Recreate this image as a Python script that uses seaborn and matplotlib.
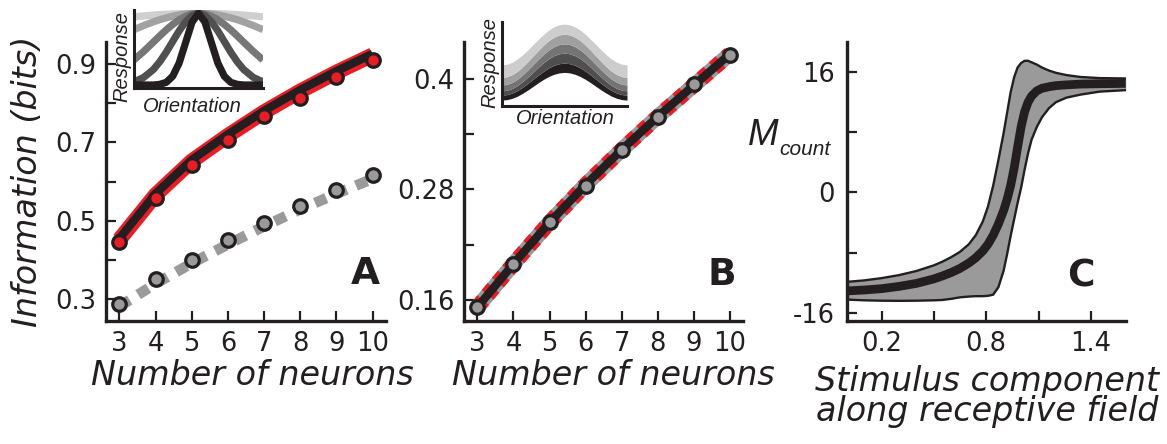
import matplotlib
matplotlib.use("Agg")
import matplotlib.pyplot as plt
import seaborn as sns

# ---------------- data ----------------
neurons = [3, 4, 5, 6, 7, 8, 9, 10]
A_red_points = [0.447, 0.558, 0.642, 0.705, 0.766, 0.812, 0.867, 0.908]
A_red_line = [0.452, 0.566, 0.652, 0.717, 0.777, 0.830, 0.878, 0.922]
A_black_line = [0.455, 0.569, 0.655, 0.720, 0.780, 0.833, 0.881, 0.925]
A_gray_points = [0.287, 0.351, 0.401, 0.450, 0.495, 0.538, 0.579, 0.617]
A_gray_line = [0.282, 0.340, 0.392, 0.440, 0.486, 0.529, 0.569, 0.607]

B_points = [0.152, 0.199, 0.244, 0.284, 0.323, 0.359, 0.394, 0.426]
B_line = [0.152, 0.199, 0.244, 0.285, 0.323, 0.359, 0.393, 0.427]

C_x = [0.0, 0.1, 0.2, 0.3, 0.4, 0.5, 0.55, 0.6, 0.65, 0.7, 0.74, 0.78, 0.81, 0.84,
       0.87, 0.9, 0.92, 0.94, 0.96, 0.98, 1.0, 1.02, 1.04, 1.06, 1.09, 1.12, 1.16,
       1.2, 1.26, 1.34, 1.45, 1.6]
C_upper = [-11.9, -11.7, -11.4, -11.0, -10.45, -9.7, -9.2, -8.6, -7.9, -6.9, -5.7, -3.9,
           -1.9, 0.9, 4.3, 7.9, 10.6, 13.3, 15.3, 16.6, 17.2, 17.5, 17.5, 17.3, 17.0,
           16.6, 16.2, 15.9, 15.6, 15.35, 15.2, 15.15]
C_mean = [-13.1, -12.98, -12.8, -12.5, -12.1, -11.5, -11.1, -10.65, -10.1, -9.4, -8.7,
          -7.8, -6.9, -5.7, -4.2, -2.4, -0.9, 0.9, 3.2, 6.0, 8.7, 10.7, 12.0, 12.8, 13.5,
          13.85, 14.05, 14.2, 14.3, 14.4, 14.45, 14.5]
C_lower = [-14.25, -14.35, -14.4, -14.42, -14.4, -14.35, -14.3, -14.15, -13.95, -13.85,
           -13.8, -13.8, -13.75, -13.6, -12.6, -10.4, -8.2, -5.8, -3.6, -1.4, 0.6, 3.0,
           5.2, 7.0, 8.7, 10.0, 11.2, 12.0, 12.6, 13.0, 13.4, 13.6]

# inset A: tuning curves of different widths (half profiles, symmetric)
insetA_u_half = [0, 0.1, 0.2, 0.3, 0.4, 0.5, 0.6, 0.7, 0.85, 1.0]
insetA_black = [1, .877, .591, .306, .122, .037, .009, 0, 0, 0]
insetA_dark = [1, .969, .882, .755, .607, .458, .325, .216, .105, .044]
insetA_mid = [1, .990, .959, .910, .845, .769, .685, .598, .468, .350]
insetA_light = [1, .997, .990, .977, .959, .937, .911, .881, .829, .772]
insetA_lightest = [1, .9995, .998, .995, .992, .987, .982, .975, .964, .950]

# inset B: gain-modulated curves (band boundaries, half profiles)
insetB_u_half = [0, 1/12, 2/12, 3/12, 4/12, 5/12, 6/12, 7/12, 8/12, 9/12, 10/12, 11/12, 1]
insetB_c0 = [.40, .394, .378, .352, .318, .278, .235, .192, .153, .118, .092, .076, .07]
insetB_c1 = [.51, .504, .485, .455, .415, .369, .32, .271, .225, .185, .155, .136, .13]
insetB_c2 = [.63, .622, .60, .564, .518, .463, .405, .347, .293, .246, .21, .188, .18]
insetB_c3 = [.74, .732, .707, .668, .618, .558, .495, .432, .373, .322, .283, .258, .25]
insetB_c4 = [.855, .846, .82, .78, .726, .664, .598, .531, .469, .415, .375, .349, .34]
insetB_c5 = [.975, .967, .943, .904, .854, .795, .733, .67, .611, .561, .522, .498, .49]


def mirror_u(h):
    return [-v for v in reversed(h)] + list(h[1:])


def mirror_v(h):
    return list(reversed(h)) + list(h[1:])


# ---------------- style ----------------
sns.set_style("ticks")
plt.rcParams['font.family'] = ['DejaVu Sans']
plt.rcParams['axes.unicode_minus'] = False

DARK = '#231f20'
RED = '#ec1c24'
GRAY = '#9a9a9a'

W, H = 1167, 444
fig = plt.figure(figsize=(W / 100, H / 100), dpi=100)


def px_axes(x0, y0, x1, y1):
    return fig.add_axes([x0 / W, 1 - y1 / H, (x1 - x0) / W, (y1 - y0) / H])


def style_main(ax):
    sns.despine(ax=ax)
    for s in ['left', 'bottom']:
        ax.spines[s].set_linewidth(2.4)
        ax.spines[s].set_color(DARK)
    ax.tick_params(which='both', direction='in', length=7, width=1.6,
                   color=DARK, labelcolor=DARK, labelsize=18.5)
    ax.tick_params(axis='y', which='both', pad=7)
    ax.tick_params(axis='x', which='both', pad=7.5)


axA = px_axes(106, 42, 386, 321)
axB = px_axes(464, 42, 743, 321)
axC = px_axes(846.7, 42, 1125.7, 321)

common = dict(estimator=None, sort=False, errorbar=None, legend=False)

# ---------------- panel A ----------------
sns.lineplot(x=neurons, y=A_gray_line, ax=axA, color=GRAY, linewidth=7.6,
             linestyle=(0, (1.15, 0.95)), dash_capstyle='butt', **common)
sns.lineplot(x=neurons, y=A_red_line, ax=axA, color=RED, linewidth=11,
             solid_capstyle='butt', **common)
sns.lineplot(x=neurons, y=A_black_line, ax=axA, color=DARK, linewidth=6,
             solid_capstyle='butt', **common)
sns.scatterplot(x=neurons, y=A_red_points, ax=axA, color=RED, s=95,
                edgecolor=DARK, linewidth=2.3, zorder=5, legend=False)
sns.scatterplot(x=neurons, y=A_gray_points, ax=axA, color=GRAY, s=95,
                edgecolor=DARK, linewidth=2.3, zorder=5, legend=False)
axA.set_xlim(2.63, 10.37)
axA.set_ylim(0.245, 0.955)
axA.set_xticks(neurons)
axA.set_xticklabels([str(n) for n in neurons])
axA.set_yticks([0.3, 0.5, 0.7, 0.9])
axA.set_yticklabels(['0.3', '0.5', '0.7', '0.9'])
axA.set_yticks([0.4, 0.6, 0.8], minor=True)
style_main(axA)
axA.set_xlabel('Number of neurons', fontsize=24, fontstyle='italic', color=DARK, va='center')
axA.xaxis.set_label_coords(0.524, -0.194)
axA.set_ylabel('Information (bits)', fontsize=24, fontstyle='italic', color=DARK, va='center')
axA.yaxis.set_label_coords(-0.282, 0.5)
axA.text(0.925, 0.17, 'A', transform=axA.transAxes, fontsize=27, fontweight='bold',
         color=DARK, ha='center', va='center')

# ---------------- panel B ----------------
sns.lineplot(x=neurons, y=B_line, ax=axB, color=GRAY, linewidth=11,
             solid_capstyle='butt', **common)
sns.lineplot(x=neurons, y=B_line, ax=axB, color=RED, linewidth=11,
             linestyle=(0, (0.6, 0.45)), dash_capstyle='butt', **common)
sns.lineplot(x=neurons, y=B_line, ax=axB, color=DARK, linewidth=6,
             solid_capstyle='butt', **common)
sns.scatterplot(x=neurons, y=B_points, ax=axB, color=GRAY, s=95,
                edgecolor=DARK, linewidth=2.3, zorder=5, legend=False)
axB.set_xlim(2.63, 10.36)
axB.set_ylim(0.137, 0.44)
axB.set_xticks(neurons)
axB.set_xticklabels([str(n) for n in neurons])
axB.set_yticks([0.16, 0.28, 0.4])
axB.set_yticklabels(['0.16', '0.28', '0.4'])
axB.set_yticks([0.22, 0.34], minor=True)
style_main(axB)
axB.set_xlabel('Number of neurons', fontsize=24, fontstyle='italic', color=DARK, va='center')
axB.xaxis.set_label_coords(0.535, -0.194)
axB.text(0.923, 0.165, 'B', transform=axB.transAxes, fontsize=27, fontweight='bold',
         color=DARK, ha='center', va='center')

# ---------------- panel C ----------------
axC.fill_between(C_x, C_lower, C_upper, color=GRAY, linewidth=0, zorder=1)
sns.lineplot(x=C_x, y=C_upper, ax=axC, color=DARK, linewidth=1.7, zorder=2, **common)
sns.lineplot(x=C_x, y=C_lower, ax=axC, color=DARK, linewidth=1.7, zorder=2, **common)
sns.lineplot(x=C_x, y=C_mean, ax=axC, color=DARK, linewidth=6.3, zorder=3,
             solid_capstyle='butt', **common)
axC.set_xlim(0, 1.6)
axC.set_ylim(-17.1, 20.0)
axC.set_xticks([0.2, 0.8, 1.4])
axC.set_xticklabels(['0.2', '0.8', '1.4'])
axC.set_xticks([0.5, 1.1], minor=True)
axC.set_yticks([-16, 0, 16])
axC.set_yticklabels(['-16', '0', '16'])
axC.set_yticks([-8, 8], minor=True)
style_main(axC)
axC.tick_params(axis='y', which='both', pad=8.5)
axC.set_xlabel('Stimulus component\nalong receptive field', fontsize=24,
               fontstyle='italic', color=DARK, va='center', linespacing=0.86)
axC.xaxis.set_label_coords(0.503, -0.27)
axC.text(0.84, 0.158, 'C', transform=axC.transAxes, fontsize=27, fontweight='bold',
         color=DARK, ha='center', va='center')
fig.text(748 / W, 1 - 145 / H, 'M', fontsize=26.5, fontstyle='italic',
         family=['Liberation Sans'], color=DARK, ha='left', va='baseline')
fig.text(779 / W, 1 - 155 / H, 'count', fontsize=15, fontstyle='italic',
         family=['Liberation Sans'], color=DARK, ha='left', va='baseline')


# ---------------- insets ----------------
def style_inset(ax):
    sns.despine(ax=ax)
    for s in ['left', 'bottom']:
        ax.spines[s].set_linewidth(2.2)
        ax.spines[s].set_color(DARK)
    ax.set_xticks([])
    ax.set_yticks([])
    ax.patch.set_alpha(0)


inA = px_axes(134, 10, 263, 88)
uA = mirror_u(insetA_u_half)
for vals, col in [(insetA_lightest, '#cfcfcf'), (insetA_light, '#a2a2a2'),
                  (insetA_mid, '#777777'), (insetA_dark, '#505050'),
                  (insetA_black, DARK)]:
    sns.lineplot(x=uA, y=mirror_v(vals), ax=inA, color=col, linewidth=5.2,
                 solid_capstyle='butt', **common)
inA.set_xlim(-1, 1)
inA.set_ylim(-0.042, 1.046)
style_inset(inA)
inA.set_xlabel('Orientation', fontsize=14.5, fontstyle='italic',
               family=['Liberation Sans'], color=DARK, va='center')
inA.xaxis.set_label_coords(0.453, -0.24)
inA.set_ylabel('Response', fontsize=14.5, fontstyle='italic',
               family=['Liberation Sans'], color=DARK, va='center')
inA.yaxis.set_label_coords(-0.095, 0.41)

inB = px_axes(502, 22, 627, 106)
uB = mirror_u(insetB_u_half)
bounds = [insetB_c0, insetB_c1, insetB_c2, insetB_c3, insetB_c4, insetB_c5]
band_cols = [DARK, '#4f4f4f', '#747474', '#a0a0a0', '#cdcdcd']
for i, col in enumerate(band_cols):
    inB.fill_between(uB, mirror_v(bounds[i]), mirror_v(bounds[i + 1]),
                     color=col, linewidth=0)
inB.set_xlim(-1, 1)
inB.set_ylim(0, 1.0)
style_inset(inB)
inB.set_xlabel('Orientation', fontsize=14.5, fontstyle='italic',
               family=['Liberation Sans'], color=DARK, va='center')
inB.xaxis.set_label_coords(0.504, -0.149)
inB.set_ylabel('Response', fontsize=14.5, fontstyle='italic',
               family=['Liberation Sans'], color=DARK, va='center')
inB.yaxis.set_label_coords(-0.096, 0.512)

fig.savefig('out.png', dpi=100)
